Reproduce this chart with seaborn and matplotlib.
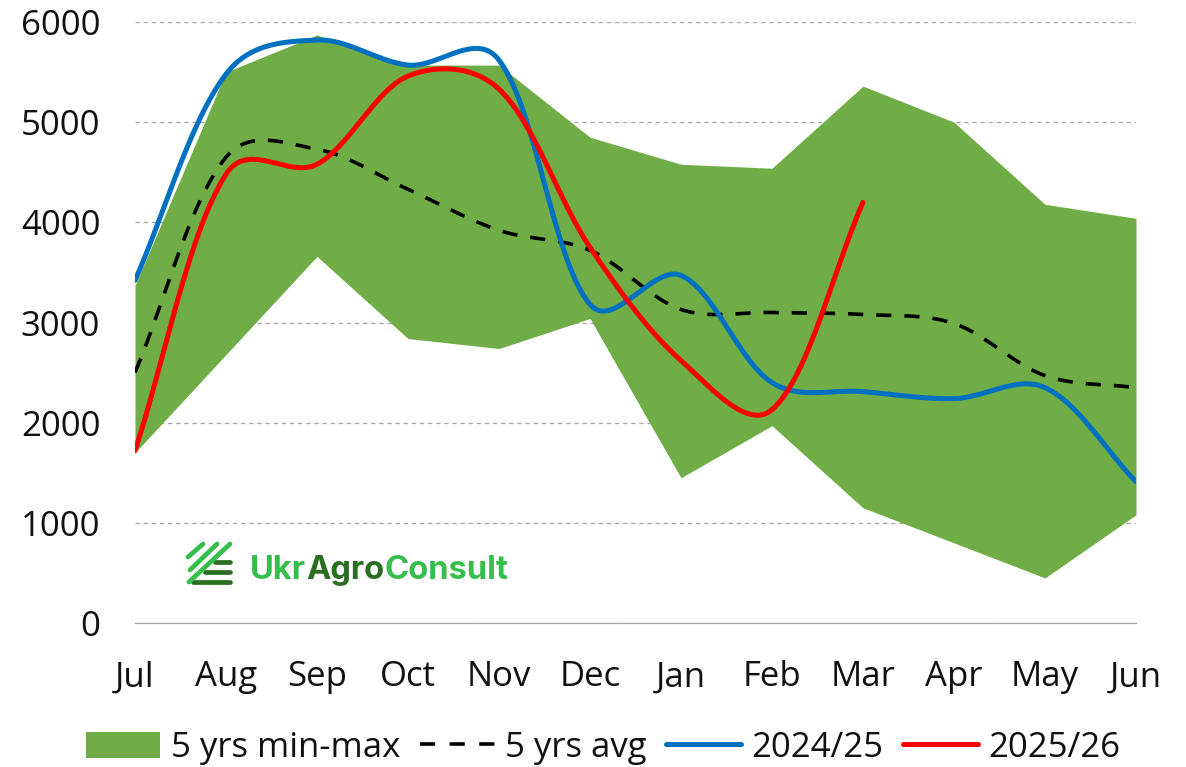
import numpy as np
import pandas as pd
import matplotlib
matplotlib.use("Agg")
import matplotlib.pyplot as plt
from matplotlib.lines import Line2D
import seaborn as sns

# -------------------------------
# Data
# -------------------------------
months = ["Jul", "Aug", "Sep", "Oct", "Nov", "Dec", "Jan", "Feb", "Mar", "Apr", "May", "Jun"]
range_max = [3370, 5500, 5870, 5570, 5570, 4850, 4580, 4540, 5360, 5000, 4180, 4040]
range_min = [1700, 2680, 3660, 2840, 2740, 3040, 1450, 1970, 1150, 800, 450, 1080]
avg_5yrs = [2500, 4650, 4730, 4330, 3920, 3720, 3130, 3100, 3080, 2990, 2470, 2350]
season_2425 = [3420, 5480, 5820, 5570, 5620, 3180, 3470, 2400, 2310, 2240, 2350, 1410]
season_2526 = [1720, 4480, 4580, 5460, 5330, 3750, 2620, 2130, 4200]
y_ticks = [0, 1000, 2000, 3000, 4000, 5000, 6000]


def smooth(values, steps=30):
    # spreadsheet style "smoothed line": bezier handles partly weighted by segment length
    # (lengths measured at screen scale, 91 px a month and 100 px per 1000)
    pts = np.column_stack([np.arange(len(values)) * 91.0, np.asarray(values, dtype=float) / 10])
    d = np.hypot(*np.diff(pts, axis=0).T)
    xs, ys = [], []
    t = np.linspace(0, 1, steps, endpoint=False)[:, None]
    for i in range(len(pts) - 1):
        if i == 0:
            c1 = pts[0] + (pts[1] - pts[0]) / 3
        else:
            w = 0.25 + 0.5 * d[i] / (d[i - 1] + d[i])
            c1 = pts[i] + (pts[i + 1] - pts[i - 1]) * w / 3
        if i == len(pts) - 2:
            c2 = pts[i + 1] - (pts[i + 1] - pts[i]) / 3
        else:
            w = 0.25 + 0.5 * d[i] / (d[i] + d[i + 1])
            c2 = pts[i + 1] - (pts[i + 2] - pts[i]) * w / 3
        seg = (1 - t)**3 * pts[i] + 3 * (1 - t)**2 * t * c1 + 3 * (1 - t) * t**2 * c2 + t**3 * pts[i + 1]
        xs.extend(seg[:, 0] / 91)
        ys.extend(seg[:, 1] * 10)
    xs.append(len(values) - 1)
    ys.append(values[-1])
    return pd.DataFrame({"x": xs, "y": ys})


# -------------------------------
# Figure
# -------------------------------
sns.set_theme(style="white")
plt.rcParams["font.family"] = ["Open Sans", "DejaVu Sans"]

fig = plt.figure(figsize=(11.86, 7.67), dpi=100)
ax = fig.add_axes([135 / 1186, 1 - 623 / 767, (1136 - 135) / 1186, (623 - 22) / 767])

x = np.arange(len(months))
ax.fill_between(x, range_min, range_max, color="#70AD47", linewidth=0, zorder=2)

sns.lineplot(data=smooth(avg_5yrs), x="x", y="y", sort=False, color="black", linewidth=2.6,
             linestyle=(0, (4.2, 3.6)), ax=ax, zorder=3)
sns.lineplot(data=smooth(season_2425), x="x", y="y", sort=False, color="#0070C0", linewidth=3.6, ax=ax, zorder=4)
sns.lineplot(data=smooth(season_2526), x="x", y="y", sort=False, color="#FF0000", linewidth=3.6, ax=ax, zorder=5)

ax.set_xlim(0, 11)
ax.set_ylim(0, 6000)
ax.set_xticks(x)
ax.set_xticklabels(months)
ax.set_yticks(y_ticks)
ax.set_xlabel("")
ax.set_ylabel("")
ax.tick_params(axis="x", length=0, labelsize=25, pad=27, labelcolor="#111111")
ax.tick_params(axis="y", length=0, labelsize=25, pad=25, labelcolor="#111111")

ax.grid(axis="y", color="#A6A6A6", linestyle=(0, (3.5, 3)), linewidth=0.9, zorder=1)
ax.set_axisbelow(True)
sns.despine(ax=ax, left=True, top=True, right=True)
ax.spines["bottom"].set_color("#A6A6A6")
ax.spines["bottom"].set_linewidth(0.9)

# -------------------------------
# Legend
# -------------------------------
handles = [
    plt.Rectangle((0, 0), 1, 1, color="#70AD47", linewidth=0),
    Line2D([0], [0], color="black", linewidth=2.6, linestyle=(0, (4.2, 4.0))),
    Line2D([0], [0], color="#0070C0", linewidth=3.6),
    Line2D([0], [0], color="#FF0000", linewidth=3.6),
]
labels = ["5 yrs min-max", "5 yrs avg", "2024/25", "2025/26"]
fig.legend(handles, labels, ncol=4, loc="center", bbox_to_anchor=(603 / 1186, 1 - 748 / 767),
           frameon=False, fontsize=25, handlelength=2.15, handleheight=0.8,
           handletextpad=0.3, columnspacing=0.57, labelcolor="#111111")

# -------------------------------
# Logo
# -------------------------------
green = "#35BE4B"
dark = "#2A6E22"
for x0, y0, x1, y1 in [(188, 557, 203, 544), (190, 570, 217, 544), (189, 582, 230, 544)]:
    fig.add_artist(Line2D([x0 / 1186, x1 / 1186], [1 - y0 / 767, 1 - y1 / 767], color=green,
                          linewidth=3.4, solid_capstyle="round", zorder=3))
for x0, y0 in [(215, 562), (205, 572), (193, 582)]:
    fig.add_artist(Line2D([x0 / 1186, 230 / 1186], [1 - y0 / 767, 1 - y0 / 767], color=dark,
                          linewidth=3.4, solid_capstyle="round", zorder=2))

# three colours on one baseline, so each part starts where the last one ended
renderer = fig.canvas.get_renderer()
pen = 250 / 1186
for part, col in [("Ukr", green), ("Agro", dark), ("Consult", green)]:
    t = fig.text(pen, 1 - 579 / 767, part, color=col, fontsize=23.5, fontweight="bold",
                 family=["Inter", "Open Sans"], va="baseline")
    pen = fig.transFigure.inverted().transform(t.get_window_extent(renderer).corners()[-1])[0]

fig.savefig("out.png", dpi=100)
